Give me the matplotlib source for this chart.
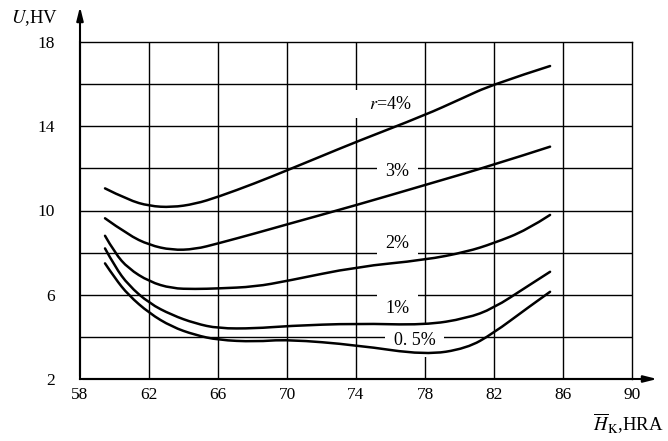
import matplotlib
matplotlib.use("Agg")
import matplotlib.pyplot as plt
from matplotlib.path import Path
from matplotlib.patches import PathPatch

plt.rcParams['font.family'] = ['Liberation Serif', 'DejaVu Serif']
plt.rcParams['mathtext.fontset'] = 'stix'

# Data
x_r4 = [59.45, 60.80, 62.02, 63.32, 64.67, 66.02, 68.14, 70.04, 71.91, 74.04, 78.0, 80.03, 81.96, 85.25]
y_r4 = [11.05, 10.50, 10.21, 10.15, 10.31, 10.65, 11.29, 11.92, 12.55, 13.27, 14.53, 15.28, 16.0, 16.86]

x_r3 = [59.45, 60.80, 62.02, 63.32, 64.67, 66.02, 68.14, 70.04, 74.04, 78.0, 81.96, 85.25]
y_r3 = [9.63, 8.84, 8.36, 8.12, 8.16, 8.44, 8.91, 9.35, 10.26, 11.21, 12.16, 13.03]

x_r2 = [59.45, 60.03, 60.80, 62.02, 63.32, 64.67, 66.02, 68.14, 70.04, 74.04, 78.0, 80.42, 81.96, 83.9, 85.25]
y_r2 = [8.80, 7.97, 7.25, 6.62, 6.30, 6.27, 6.30, 6.38, 6.66, 7.33, 7.65, 8.04, 8.44, 9.07, 9.79]

x_r1 = [59.45, 60.03, 60.80, 62.02, 63.32, 64.67, 66.02, 68.14, 70.04, 74.04, 78.0, 80.42, 81.96, 83.9, 85.25]
y_r1 = [8.20, 7.33, 6.46, 5.59, 5.04, 4.64, 4.40, 4.40, 4.52, 4.64, 4.56, 4.88, 5.35, 6.38, 7.09]

x_r05 = [59.45, 60.03, 60.80, 62.02, 63.32, 64.67, 66.02, 68.14, 70.04, 74.04, 78.0, 80.42, 81.96, 83.9, 85.25]
y_r05 = [7.49, 6.78, 5.99, 5.12, 4.48, 4.09, 3.85, 3.77, 3.88, 3.61, 3.14, 3.45, 4.17, 5.35, 6.14]

x_ticks = [58, 62, 66, 70, 74, 78, 82, 86, 90]
y_ticks = [2, 6, 10, 14, 18]
y_grid = [4, 8, 12, 16]

labels = ['    $r$=4%', '3%', '2%', '1%', '0. 5%']
label_pos = [(77.2, 15.05), (76.4, 11.83), (76.4, 8.45), (76.4, 5.37), (77.4, 3.85)]
label_ha = ['right', 'center', 'center', 'center', 'center']


def smooth_path(xs, ys):
    # quadratic Bezier through midpoints, data points used as control points
    pts = list(zip(xs, ys))
    verts = [pts[0]]
    codes = [Path.MOVETO]
    for i in range(1, len(pts) - 1):
        mid = ((pts[i][0] + pts[i + 1][0]) / 2, (pts[i][1] + pts[i + 1][1]) / 2)
        if i == len(pts) - 2:
            mid = pts[-1]
        verts += [pts[i], mid]
        codes += [Path.CURVE3, Path.CURVE3]
    return Path(verts, codes)


fig = plt.figure(figsize=(6.68, 4.41), dpi=100)
ax = fig.add_axes([80/668, 1-379/441, 552/668, 337/441])
ax.set_xlim(58, 90)
ax.set_ylim(2, 18)

for xv in x_ticks[1:-1]:
    ax.axvline(xv, color='black', lw=1.0, zorder=0.5)
for yv in y_ticks[1:-1] + y_grid:
    ax.axhline(yv, color='black', lw=1.0, zorder=0.5)

for xs, ys in [(x_r4, y_r4), (x_r3, y_r3), (x_r2, y_r2), (x_r1, y_r1), (x_r05, y_r05)]:
    ax.add_patch(PathPatch(smooth_path(xs, ys), facecolor='none', edgecolor='black',
                           lw=1.8, zorder=3, capstyle='round', joinstyle='round'))

for lab, (lx, ly), ha in zip(labels, label_pos, label_ha):
    ax.text(lx, ly, lab, fontsize=13, ha=ha, va='center', zorder=1,
            bbox=dict(facecolor='white', edgecolor='none', pad=(4 if ha == 'right' else 6)))

ax.set_xticks(x_ticks)
ax.set_xticklabels([str(v) for v in x_ticks], fontsize=12.5)
ax.set_yticks(y_ticks)
ax.set_yticklabels([str(v) for v in y_ticks], fontsize=12.5)
ax.tick_params(length=0, pad=6)
ax.tick_params(axis='y', pad=18)

for s in ['left', 'bottom']:
    ax.spines[s].set_linewidth(1.5)
for s in ['top', 'right']:
    ax.spines[s].set_linewidth(1.0)

# axis arrows
ax.annotate('', xy=(80/668, 1-4/441), xytext=(80/668, 1-379/441), xycoords='figure fraction',
            arrowprops=dict(arrowstyle='-|>,head_length=0.8,head_width=0.2', color='black', lw=1.5))
ax.annotate('', xy=(660/668, 1-379/441), xytext=(80/668, 1-379/441), xycoords='figure fraction',
            arrowprops=dict(arrowstyle='-|>,head_length=0.8,head_width=0.2', color='black', lw=1.5))

fig.text(35/668, 1-18/441, '$U$,HV', fontsize=13.5, ha='center', va='center')
fig.text(664/668, 1-424/441, r'$\overline{H}_{\mathrm{K}}$,HRA', fontsize=13.5, ha='right', va='center')

fig.savefig('out.png', dpi=100)
